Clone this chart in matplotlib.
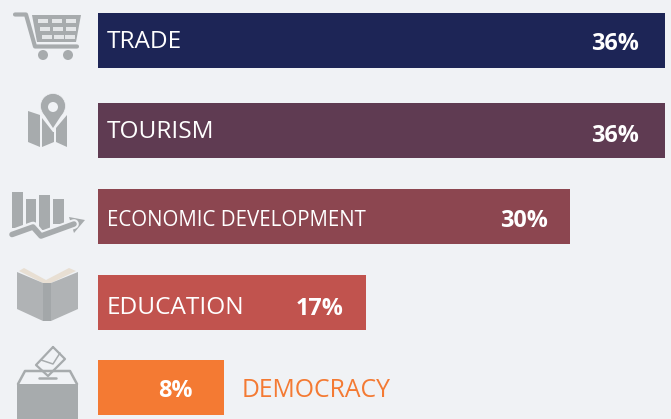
import matplotlib
matplotlib.use('Agg')
import matplotlib.pyplot as plt
from matplotlib.patches import Polygon, Circle, Rectangle

categories = ['TRADE', 'TOURISM', 'ECONOMIC DEVELOPMENT', 'EDUCATION', 'DEMOCRACY']
values = [36, 36, 30, 17, 8]
colors = ['#1d2556', '#5f3b52', '#8c4650', '#c1534e', '#f47a33']
value_labels = ['36%', '36%', '30%', '17%', '8%']

# layout, pixels
W, H = 671, 419
bar_left = 98
px_per_pct = 15.74
row_y = [40.5, 130.5, 216.5, 302.5, 387.5]
bar_h = 55
name_x = [107, 107, 107, 107, 242]
name_size = [17.6, 17.6, 14.8, 17.6, 17.8]
value_right = [639, 639, 548, 344, 193]
value_y = [41, 133, 218, 306, 388]
name_y = [39, 129, 218, 305, 387]

bg = '#f0f2f5'
grey = '#a7abad'

fig = plt.figure(figsize=(W / 100, H / 100), dpi=100, facecolor=bg)
plt.rcParams['font.family'] = ['Open Sans', 'DejaVu Sans']

# bars in percent units
ax = fig.add_axes([0, 0, 1, 1])
ax.set_xlim(-bar_left / px_per_pct, (W - bar_left) / px_per_pct)
ax.set_ylim(H, 0)
ax.axis('off')
ax.barh(row_y, values, height=bar_h, left=0, color=colors)

for i in range(len(categories)):
    c = 'white'
    if categories[i] == 'DEMOCRACY':
        c = colors[i]
    ax.text((name_x[i] - bar_left) / px_per_pct, name_y[i], categories[i], color=c,
            fontsize=name_size[i], va='center_baseline', ha='left')
    ax.text((value_right[i] - bar_left) / px_per_pct, value_y[i], value_labels[i], color='white',
            fontsize=16.8, fontweight='bold', va='center_baseline', ha='right')

# icons, pixel coords
ic = fig.add_axes([0, 0, 1, 1])
ic.set_xlim(0, W)
ic.set_ylim(H, 0)
ic.axis('off')
ic.patch.set_alpha(0)


def poly(pts, col=grey, **kw):
    ic.add_patch(Polygon(pts, closed=True, facecolor=col, edgecolor='none', **kw))


def line(xs, ys, lw=2.0, col=grey):
    ic.plot(xs, ys, color=col, lw=lw, solid_capstyle='round', solid_joinstyle='round')


# cart
line([15, 26, 35, 77], [14.5, 14.5, 46.5, 46.5], lw=3)
poly([(32, 15), (81, 15), (76, 42), (37, 42)])
for y0, x0s in [(19, [38, 52, 66]), (27, [40, 53, 66]), (35, [42, 54, 65])]:
    for x0 in x0s:
        ic.add_patch(Rectangle((x0, y0), 10, 4, facecolor='#e4e6e8', edgecolor='none'))
ic.add_patch(Circle((43, 55), 5, facecolor=grey, edgecolor='none'))
ic.add_patch(Circle((68, 55), 5, facecolor=grey, edgecolor='none'))

# map with pin
poly([(28, 111), (40, 115), (40, 147), (28, 142)])
poly([(42, 118), (53, 132), (54, 132), (54, 142), (42, 147)])
poly([(56, 128), (67, 115), (67, 147), (56, 142)])
ic.add_patch(Circle((53, 106), 12.5, facecolor=grey, edgecolor=bg, lw=0.5))
poly([(42.5, 112), (63.5, 112), (53, 128)])
ic.add_patch(Circle((53, 107), 5, facecolor=bg, edgecolor='none'))

# chart with arrow
for x0, x1, y0, y1 in [(12, 23, 192, 228), (26, 36, 199, 226), (39, 50, 195, 230), (53, 64, 199, 224)]:
    ic.add_patch(Rectangle((x0, y0), x1 - x0, y1 - y0, facecolor=grey, edgecolor='none'))
line([11, 33, 41, 74], [234.5, 226.5, 236, 224], lw=7, col=bg)
line([12, 33, 41, 74], [234.5, 227, 236, 224], lw=4)
poly([(85, 220), (69, 217), (74, 233)])

# book
poly([(19, 271), (24, 268), (46, 280), (69, 268), (76, 271), (51, 283), (43, 283)], col='#e8dfd3')
poly([(17, 272), (43, 283), (43, 321), (17, 309)], col='#b0b3b5')
poly([(43, 283), (51, 283), (51, 321), (43, 321)], col='#a3a7a9')
poly([(51, 283), (78, 272), (78, 309), (51, 321)], col='#b0b3b5')

# ballot box
poly([(17, 384), (78, 384), (78, 419), (17, 419)])
line([18, 25, 70, 77], [384, 371, 371, 384], lw=1.8)
line([39, 56], [378, 378], lw=1.8)
poly([(53, 347), (65, 359), (48, 376), (36, 365)], col=bg)
line([53, 65, 48, 36, 53], [347, 359, 376, 365, 347], lw=1.6)
line([41, 53, 60], [360, 364, 353], lw=1.1)

fig.savefig('out.png', dpi=100, facecolor=bg)
